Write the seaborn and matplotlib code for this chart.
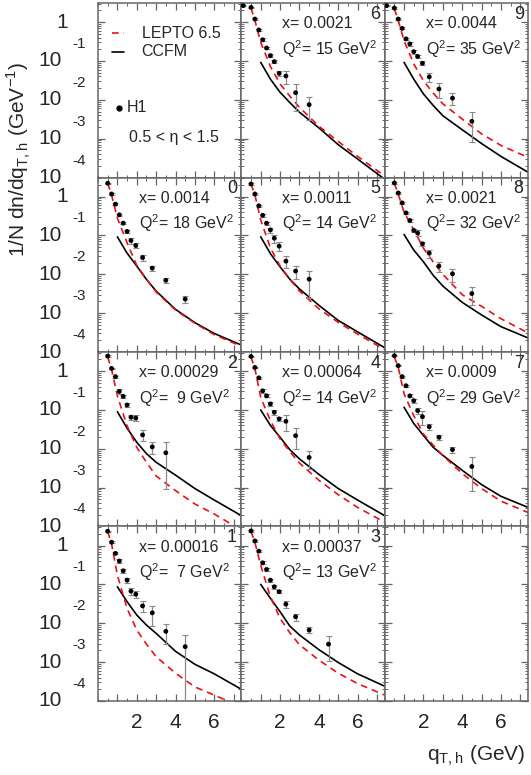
import matplotlib
matplotlib.use("Agg")
import matplotlib.pyplot as plt
import seaborn as sns
from matplotlib.ticker import LogLocator, MultipleLocator, NullFormatter, FixedLocator

# q_T,h bin centres of the H1 points (GeV)
QT = [0.5, 0.7, 0.9, 1.1, 1.3, 1.5, 1.7, 1.95, 2.3, 2.8, 3.5, 4.5]
# sampling points
LEPTO_QT = [0.5, 0.7, 1.0, 1.5, 2.0, 2.5, 3.0, 4.0, 5.0, 6.0, 7.4]
CCFM_QT = [1.0, 1.5, 2.0, 2.5, 3.0, 4.0, 5.0, 6.0, 7.4]

# panel 6: x=0.0021, Q2=15
p6_qt = [0.1] + QT[:11]
p6_y = [2.65, 2.39, 1.20, 0.63, 0.35, 0.216, 0.137, 0.096, 0.048, 0.041, 0.0153, 0.0075]
p6_err = [0.1, 0.1, 0.05, 0.03, 0.03, 0.015, 0.012, 0.009, 0.008, 0.015, 0.010, 0.0045]
p6_lepto = [2.3, 1.1, 0.30, 0.072, 0.0256, 0.0125, 0.0064, 0.0021, 0.00085, 0.00035, 0.00011]
p6_ccfm = [0.092, 0.034, 0.0156, 0.0085, 0.0048, 0.0019, 0.0007, 0.0003, 0.00009]

# panel 9: x=0.0044, Q2=35
p9_qt = [0.1] + QT
p9_y = [2.65, 2.30, 1.20, 0.69, 0.37, 0.274, 0.173, 0.131, 0.087, 0.039, 0.019, 0.011, 0.0028]
p9_err = [0.1, 0.1, 0.06, 0.04, 0.03, 0.025, 0.02, 0.015, 0.01, 0.011, 0.008, 0.0036, 0.002]
p9_lepto = [2.2, 1.1, 0.33, 0.084, 0.031, 0.015, 0.0079, 0.0032, 0.00133, 0.00067, 0.00033]
p9_ccfm = [0.092, 0.034, 0.0142, 0.0072, 0.0039, 0.0017, 0.00075, 0.00035, 0.000137]

# panel 0: x=0.0014, Q2=18
p0_y = [2.21, 1.17, 0.64, 0.34, 0.207, 0.127, 0.074, 0.055, 0.027, 0.0144, 0.0070, 0.0023]
p0_err = [0.08, 0.05, 0.03, 0.02, 0.012, 0.01, 0.012, 0.008, 0.005, 0.002, 0.001, 0.0005]
p0_lepto = [2.2, 1.1, 0.28, 0.065, 0.017, 0.0075, 0.0035, 0.0012, 0.00055, 0.00028, 0.00014]
p0_ccfm = [0.092, 0.035, 0.0163, 0.0074, 0.0037, 0.00125, 0.00057, 0.0003, 0.000151]

# panel 5: x=0.0011, Q2=14
p5_y = [2.12, 1.17, 0.58, 0.33, 0.207, 0.139, 0.085, 0.053, 0.0218, 0.0121, 0.0075]
p5_err = [0.08, 0.05, 0.03, 0.03, 0.02, 0.02, 0.02, 0.013, 0.007, 0.0045, 0.005]
p5_lepto = [2.1, 1.1, 0.25, 0.048, 0.0163, 0.0075, 0.0037, 0.0013, 0.00058, 0.00029, 0.000115]
p5_ccfm = [0.092, 0.034, 0.0155, 0.0075, 0.0042, 0.0016, 0.00065, 0.00033, 0.000129]

# panel 8: x=0.0021, Q2=32
p8_y = [2.25, 1.24, 0.69, 0.38, 0.243, 0.135, 0.115, 0.061, 0.035, 0.0163, 0.0103, 0.0032]
p8_err = [0.08, 0.05, 0.04, 0.03, 0.02, 0.015, 0.02, 0.008, 0.008, 0.005, 0.0038, 0.0016]
p8_lepto = [2.2, 1.15, 0.40, 0.14, 0.047, 0.021, 0.010, 0.0030, 0.0015, 0.00072, 0.00031]
p8_ccfm = [0.106, 0.042, 0.021, 0.0095, 0.005, 0.0019, 0.0009, 0.00045, 0.00023]

# panel 2: x=0.00029, Q2=9
p2_y = [2.44, 1.17, 0.72, 0.30, 0.224, 0.134, 0.065, 0.062, 0.0228, 0.0112, 0.0079]
p2_err = [0.1, 0.05, 0.04, 0.04, 0.02, 0.015, 0.01, 0.01, 0.007, 0.004, 0.007]
p2_lepto = [2.3, 1.1, 0.23, 0.039, 0.0109, 0.0045, 0.0020, 0.00084, 0.00038, 0.00021, 0.00008]
p2_ccfm = [0.090, 0.034, 0.0147, 0.0075, 0.0045, 0.0021, 0.00095, 0.00048, 0.00019]

# panel 4: x=0.00064, Q2=14
p4_y = [2.39, 1.24, 0.67, 0.31, 0.23, 0.143, 0.087, 0.059, 0.051, 0.0218, 0.0060]
p4_err = [0.1, 0.06, 0.04, 0.03, 0.02, 0.02, 0.012, 0.008, 0.023, 0.012, 0.003]
p4_lepto = [2.3, 1.15, 0.21, 0.053, 0.018, 0.0085, 0.0043, 0.00155, 0.00066, 0.00031, 0.000129]
p4_ccfm = [0.10, 0.040, 0.0198, 0.0095, 0.0055, 0.0022, 0.00095, 0.00048, 0.00019]

# panel 7: x=0.0009, Q2=29
p7_y = [2.49, 1.38, 0.72, 0.42, 0.23, 0.173, 0.096, 0.067, 0.037, 0.0198, 0.0095, 0.0035]
p7_err = [0.1, 0.06, 0.04, 0.03, 0.02, 0.02, 0.015, 0.025, 0.006, 0.003, 0.0015, 0.0027]
p7_lepto = [2.3, 1.25, 0.26, 0.071, 0.024, 0.0125, 0.0067, 0.0023, 0.00095, 0.00045, 0.00023]
p7_ccfm = [0.117, 0.045, 0.022, 0.011, 0.0068, 0.0028, 0.0012, 0.0006, 0.00031]

# panel 1: x=0.00016, Q2=7
p1_y = [2.34, 1.22, 0.63, 0.40, 0.224, 0.129, 0.067, 0.056, 0.028, 0.0186, 0.0062, 0.0025]
p1_err = [0.1, 0.06, 0.04, 0.04, 0.025, 0.02, 0.015, 0.01, 0.009, 0.01, 0.0033, 0.0024]
p1_lepto = [2.3, 1.1, 0.173, 0.024, 0.0067, 0.0029, 0.00138, 0.00052, 0.00023, 0.000142, 0.00007]
p1_ccfm = [0.087, 0.036, 0.0163, 0.009, 0.0055, 0.0019, 0.00088, 0.0005, 0.0002]

# panel 3: x=0.00037, Q2=13
p3_y = [2.39, 1.32, 0.72, 0.36, 0.243, 0.129, 0.087, 0.065, 0.031, 0.0147, 0.0067, 0.0029]
p3_err = [0.1, 0.06, 0.04, 0.03, 0.02, 0.012, 0.01, 0.006, 0.006, 0.003, 0.0012, 0.0018]
p3_lepto = [2.3, 1.2, 0.31, 0.048, 0.0134, 0.0057, 0.0028, 0.00113, 0.00052, 0.00028, 0.000142]
p3_ccfm = [0.10, 0.044, 0.0198, 0.0085, 0.005, 0.0021, 0.00098, 0.0005, 0.00024]

SQ = "$^{\\mathregular{2}}$"
# (row, col, qt, y, err, lepto, ccfm, x label, Q2 value, panel number)
panels = [
    (0, 1, p6_qt, p6_y, p6_err, p6_lepto, p6_ccfm, "x= 0.0021", "15", "6"),
    (0, 2, p9_qt, p9_y, p9_err, p9_lepto, p9_ccfm, "x= 0.0044", "35", "9"),
    (1, 0, QT, p0_y, p0_err, p0_lepto, p0_ccfm, "x= 0.0014", "18", "0"),
    (1, 1, QT[:11], p5_y, p5_err, p5_lepto, p5_ccfm, "x= 0.0011", "14", "5"),
    (1, 2, QT, p8_y, p8_err, p8_lepto, p8_ccfm, "x= 0.0021", "32", "8"),
    (2, 0, QT[:11], p2_y, p2_err, p2_lepto, p2_ccfm, "x= 0.00029", " 9", "2"),
    (2, 1, QT[:11], p4_y, p4_err, p4_lepto, p4_ccfm, "x= 0.00064", "14", "4"),
    (2, 2, QT, p7_y, p7_err, p7_lepto, p7_ccfm, "x= 0.0009", "29", "7"),
    (3, 0, QT, p1_y, p1_err, p1_lepto, p1_ccfm, "x= 0.00016", " 7", "1"),
    (3, 1, QT, p3_y, p3_err, p3_lepto, p3_ccfm, "x= 0.00037", "13", "3"),
]

sns.set_style("ticks")
plt.rcParams["font.family"] = ["Liberation Sans", "DejaVu Sans"]

FRAME = "#666666"
RED = "#e8101a"
TXT = 11.5
fig, axes = plt.subplots(4, 3, figsize=(5.31, 7.75), dpi=100, sharex=True, sharey=True)
fig.subplots_adjust(left=0.1846, right=0.9944, top=0.9961, bottom=0.0955, wspace=0, hspace=0)

for ax in axes.flat:
    ax.set_yscale("log")
    ax.set_ylim(1e-4, 3.1)
    ax.set_xlim(0, 7.4)
    ax.yaxis.set_major_locator(LogLocator(base=10, numticks=10))
    ax.yaxis.set_minor_locator(LogLocator(base=10, subs=range(2, 10), numticks=20))
    ax.yaxis.set_major_formatter(NullFormatter())
    ax.yaxis.set_minor_formatter(NullFormatter())
    ax.xaxis.set_major_locator(MultipleLocator(1))
    ax.xaxis.set_minor_locator(MultipleLocator(0.5))
    ax.tick_params(which="both", direction="in", top=True, right=True,
                   color=FRAME, labelbottom=False, labelleft=False)
    ax.tick_params(which="major", length=5, width=0.9)
    ax.tick_params(which="minor", length=2.5, width=0.7)
    for sp in ax.spines.values():
        sp.set_color(FRAME)
        sp.set_linewidth(1.1)

for row, col, qt, y, err, lepto, ccfm, xlab, q2, num in panels:
    ax = axes[row, col]
    sns.lineplot(x=CCFM_QT, y=ccfm, ax=ax, color="black", lw=1.2, estimator=None, sort=False)
    sns.lineplot(x=LEPTO_QT, y=lepto, ax=ax, color=RED, lw=1.2, estimator=None,
                 sort=False, linestyle=(0, (4, 3)))
    ax.errorbar(qt, y, yerr=err, fmt="none", ecolor="#8a8a8a", elinewidth=0.9,
                capsize=2, capthick=0.8, zorder=3)
    sns.scatterplot(x=qt, y=y, ax=ax, color="black", s=12, edgecolor="none", zorder=4)
    ax.text(0.285, 0.88, xlab, transform=ax.transAxes, fontsize=TXT, ha="left", va="center")
    ax.text(0.285, 0.737, "Q" + SQ + "= " + q2 + " GeV" + SQ, transform=ax.transAxes,
            fontsize=TXT, ha="left", va="center")
    ax.text(0.935, 0.935, num, transform=ax.transAxes, fontsize=13, ha="center", va="center")

# legend panel
lax = axes[0, 0]
lax.plot([0.097, 0.183], [0.828, 0.828], transform=lax.transAxes, color=RED,
         lw=1.2, linestyle=(0, (4, 3)))
lax.plot([0.097, 0.183], [0.72, 0.72], transform=lax.transAxes, color="black", lw=1.2)
lax.text(0.305, 0.828, "LEPTO 6.5", transform=lax.transAxes, fontsize=TXT, va="center")
lax.text(0.305, 0.72, "CCFM", transform=lax.transAxes, fontsize=TXT, va="center")
lax.plot([0.149], [0.40], "o", transform=lax.transAxes, color="black", ms=3.5)
lax.text(0.20, 0.40, "H1", transform=lax.transAxes, fontsize=TXT, va="center")
lax.text(0.213, 0.228, "0.5 < η < 1.5", transform=lax.transAxes, fontsize=TXT, va="center")

# ROOT-style y labels on the left column
for r in range(4):
    ax = axes[r, 0]
    ax.annotate("1", xy=(0, 1), xycoords=(ax.transAxes, ax.transData), xytext=(-30, 0),
                textcoords="offset pixels", ha="right", va="center", fontsize=15)
    for e in [-1, -2, -3, -4]:
        ax.annotate("10", xy=(0, 10.0 ** e), xycoords=(ax.transAxes, ax.transData),
                    xytext=(-36, 0), textcoords="offset pixels", ha="right", va="center",
                    fontsize=15, annotation_clip=False)
        ax.annotate(str(e), xy=(0, 10.0 ** e), xycoords=(ax.transAxes, ax.transData),
                    xytext=(-26, 17), textcoords="offset pixels", ha="left", va="center",
                    fontsize=11, annotation_clip=False)

for c in range(3):
    ax = axes[3, c]
    ax.xaxis.set_major_locator(FixedLocator([1, 2, 3, 4, 5, 6, 7]))
    ax.set_xticklabels(["", "2", "", "4", "", "6", ""])
    ax.tick_params(axis="x", labelbottom=True, labelsize=15, pad=9)

fig.text(0.035, 1 - 160 / 775, "1/N dn/dq$_{\\mathregular{T,h}}$ (GeV$^{\\mathregular{-1}}$)",
         rotation=90, ha="center", va="center", fontsize=15)
fig.text(0.99, 1 - 756 / 775, "q$_{\\mathregular{T,h}}$ (GeV)", ha="right", va="center",
         fontsize=15)

fig.savefig("out.png", dpi=100)
